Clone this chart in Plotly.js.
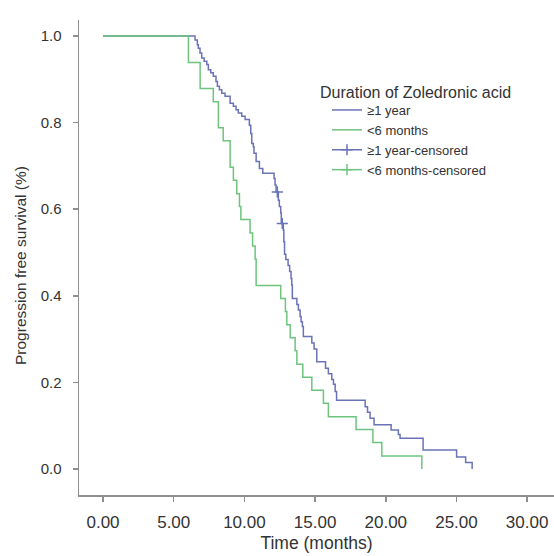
<!DOCTYPE html>
<html>
<head>
<meta charset="utf-8">
<script src="https://cdn.plot.ly/plotly-3.0.1.min.js"></script>
<style>html,body{margin:0;padding:0;background:#fff;}#chart{width:554px;height:556px;}</style>
</head>
<body>
<div id="chart"></div>
<script>
// ≥1 year group: event times (months) and survival after each event
const yearTime = [0, 6.51, 6.67, 6.74, 6.86, 6.98, 7.15, 7.34, 7.45, 7.62, 7.80, 7.99, 8.09, 8.23, 8.40, 8.63, 8.99, 9.22, 9.41, 9.57, 9.81, 10.05, 10.35, 10.45, 10.52, 10.63, 10.68, 10.83, 11.06, 11.30, 12.10, 12.17, 12.24, 12.40, 12.47, 12.57, 12.61, 12.75, 12.79, 12.84, 12.93, 13.09, 13.20, 13.30, 13.35, 13.39, 13.71, 13.82, 13.94, 14.01, 14.10, 14.17, 14.77, 14.93, 15.12, 15.74, 15.94, 16.18, 16.30, 16.42, 16.52, 18.54, 18.71, 18.89, 19.17, 20.38, 20.89, 21.01, 22.64, 25.01, 25.65, 26.11];
const yearSurv = [1.0, 0.991, 0.980, 0.972, 0.961, 0.949, 0.942, 0.934, 0.922, 0.915, 0.907, 0.895, 0.884, 0.876, 0.868, 0.861, 0.845, 0.838, 0.830, 0.822, 0.815, 0.807, 0.794, 0.775, 0.752, 0.744, 0.729, 0.710, 0.694, 0.683, 0.671, 0.656, 0.640, 0.621, 0.606, 0.591, 0.567, 0.552, 0.525, 0.496, 0.484, 0.470, 0.456, 0.440, 0.425, 0.394, 0.380, 0.367, 0.352, 0.340, 0.329, 0.306, 0.291, 0.277, 0.248, 0.233, 0.220, 0.207, 0.196, 0.179, 0.159, 0.144, 0.131, 0.117, 0.102, 0.090, 0.080, 0.071, 0.044, 0.028, 0.015, 0.0];
const yearCensTime = [12.33, 12.68];
const yearCensSurv = [0.640, 0.567];

// <6 months group
const monthTime = [0, 6.04, 6.87, 7.80, 8.16, 8.50, 8.99, 9.22, 9.46, 9.65, 9.75, 10.40, 10.58, 10.76, 10.83, 12.57, 12.90, 13.00, 13.24, 13.59, 13.71, 14.13, 14.77, 15.59, 15.94, 17.90, 19.09, 19.72, 22.55];
const monthSurv = [1.0, 0.939, 0.879, 0.848, 0.788, 0.758, 0.697, 0.667, 0.636, 0.606, 0.576, 0.545, 0.515, 0.485, 0.424, 0.394, 0.364, 0.333, 0.303, 0.273, 0.242, 0.212, 0.182, 0.152, 0.121, 0.091, 0.061, 0.030, 0.0];
// no censored cases visible in this group
const monthCensTime = [null];
const monthCensSurv = [null];

const seriesNames = ['≥1 year', '<6 months', '≥1 year-censored', '<6 months-censored'];
const legendTitle = 'Duration of Zoledronic acid';
const xTitle = 'Time (months)';
const yTitle = 'Progression free survival (%)';

const xTickVals = [0, 5, 10, 15, 20, 25, 30];
const xTickText = ['0.00', '5.00', '10.00', '15.00', '20.00', '25.00', '30.00'];
const yTickVals = [0, 0.2, 0.4, 0.6, 0.8, 1.0];
const yTickText = ['0.0', '0.2', '0.4', '0.6', '0.8', '1.0'];

const blue = '#6a73b6';
const green = '#6ec47e';

function gapped(arr) {
  const out = [];
  arr.forEach((v, i) => { if (i) out.push(null); out.push(v); });
  return out;
}

const traces = [
  {x: yearTime, y: yearSurv, type: 'scatter', mode: 'lines', line: {shape: 'hv', color: blue, width: 1.5}, name: seriesNames[0]},
  {x: monthTime, y: monthSurv, type: 'scatter', mode: 'lines', line: {shape: 'hv', color: green, width: 1.5}, name: seriesNames[1]},
  {x: gapped(yearCensTime), y: gapped(yearCensSurv), type: 'scatter', mode: 'lines+markers', connectgaps: false,
   line: {color: blue, width: 1.5}, marker: {symbol: 'cross-thin-open', size: 8, color: blue, line: {color: blue, width: 1.5}}, name: seriesNames[2]},
  {x: monthCensTime, y: monthCensSurv, type: 'scatter', mode: 'lines+markers', connectgaps: false,
   line: {color: green, width: 1.5}, marker: {symbol: 'cross-thin-open', size: 8, color: green, line: {color: green, width: 1.5}}, name: seriesNames[3]}
];

const axisColor = '#8f8f8f';
const textColor = '#333333';
const fontFamily = 'Liberation Sans, Arial, Helvetica, sans-serif';

// plot area in pixels
const M = {l: 79, r: 0, t: 20, b: 61};
const W = 554, H = 556;
const pw = W - M.l - M.r, ph = H - M.t - M.b;
const pxX = px => (px - M.l) / pw;
const pxY = py => (H - M.b - py) / ph;

const layout = {
  width: W, height: H,
  margin: {l: M.l, r: M.r, t: M.t, b: M.b, pad: 0},
  paper_bgcolor: '#ffffff', plot_bgcolor: '#ffffff',
  font: {family: fontFamily, size: 15, color: textColor},
  showlegend: true,
  legend: {
    x: pxX(327), xanchor: 'left', y: pxY(95), yanchor: 'top',
    font: {size: 13, color: textColor, family: fontFamily},
    bgcolor: 'rgba(0,0,0,0)', borderwidth: 0, tracegroupgap: 0, itemwidth: 30
  },
  annotations: [
    {text: legendTitle, xref: 'paper', yref: 'paper', x: pxX(318), y: pxY(93),
     xanchor: 'left', yanchor: 'middle', showarrow: false,
     font: {size: 16, color: textColor, family: fontFamily}},
    {text: yTitle, xref: 'paper', yref: 'paper', x: pxX(20), y: pxY(266), textangle: -90,
     xanchor: 'center', yanchor: 'middle', showarrow: false,
     font: {size: 15.5, color: textColor, family: fontFamily}}
  ],
  xaxis: {
    range: [-1.70, 31.9], showgrid: false, zeroline: false,
    showline: true, linecolor: axisColor, linewidth: 1.5,
    ticks: 'outside', ticklen: 5, tickwidth: 1.5, tickcolor: axisColor,
    tickvals: xTickVals, ticktext: xTickText, ticklabelstandoff: 6,
    tickfont: {size: 17, color: textColor},
    title: {text: xTitle, font: {size: 17.5, color: textColor}, standoff: 6}
  },
  yaxis: {
    range: [-0.060, 1.0370], showgrid: false, zeroline: false,
    showline: true, linecolor: axisColor, linewidth: 1.5,
    ticks: 'outside', ticklen: 5, tickwidth: 1.5, tickcolor: axisColor,
    tickvals: yTickVals, ticktext: yTickText, ticklabelstandoff: 8,
    tickfont: {size: 15, color: textColor}
  }
};

Plotly.newPlot('chart', traces, layout, {displayModeBar: false, staticPlot: true});
</script>
</body>
</html>
